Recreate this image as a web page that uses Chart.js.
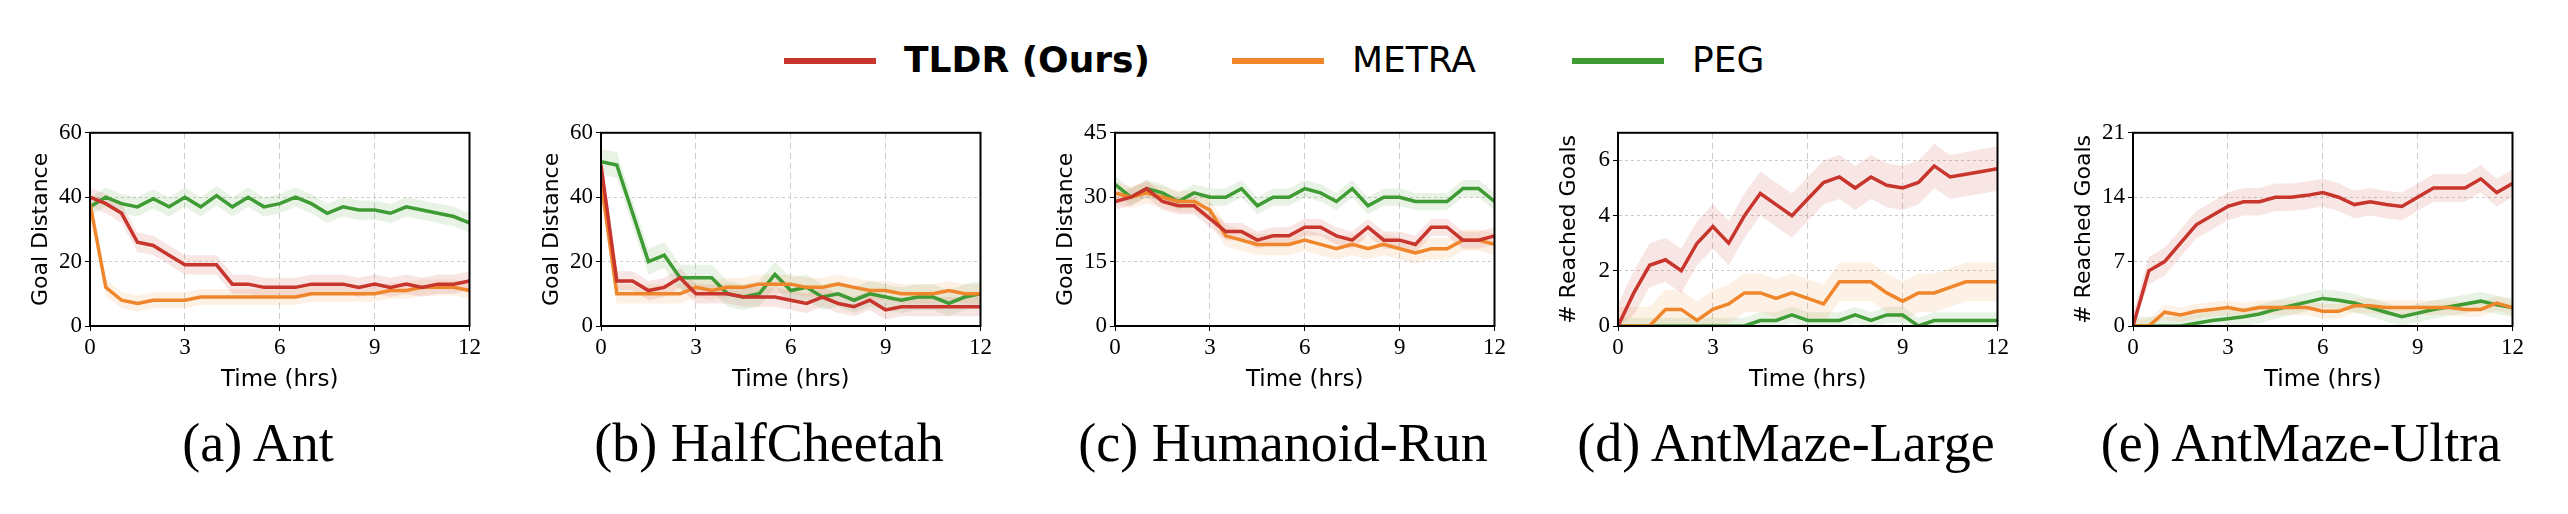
<!DOCTYPE html>
<html><head><meta charset="utf-8">
<script src="https://cdn.jsdelivr.net/npm/chart.js@4.4.1/dist/chart.umd.min.js"></script>
<style>
body{margin:0;background:#fff;width:2568px;height:514px;position:relative;overflow:hidden}
.box{position:absolute;top:116px;height:282px}
.cap{position:absolute;top:412px;font-family:"Liberation Serif",serif;font-size:54px;transform:translateX(-50%);white-space:nowrap}
.leg{position:absolute;top:36px;font-family:"DejaVu Sans",sans-serif;font-size:36px;line-height:48px}
.sw{position:absolute;top:58px;height:6px;width:92px}
</style></head><body>
<div class="sw" style="left:784px;background:#c8352c"></div><div class="leg" style="left:904px;font-weight:bold">TLDR (Ours)</div>
<div class="sw" style="left:1232px;background:#f0862b"></div><div class="leg" style="left:1352px">METRA</div>
<div class="sw" style="left:1572px;background:#3f9b33"></div><div class="leg" style="left:1692px">PEG</div>
<script>
const times = [0,0.5,1,1.5,2,2.5,3,3.5,4,4.5,5,5.5,6,6.5,7,7.5,8,8.5,9,9.5,10,10.5,11,11.5,12];
const titles = ['(a) Ant','(b) HalfCheetah','(c) Humanoid-Run','(d) AntMaze-Large','(e) AntMaze-Ultra'];
const yLabels = ['Goal Distance','Goal Distance','Goal Distance','# Reached Goals','# Reached Goals'];
const yMax = [60,60,45,7,21];
const yStep = [20,20,15,2,7];

const antTLDR  = [40,38,35,26,25,22,19,19,19,13,13,12,12,12,13,13,13,12,13,12,13,12,13,13,14];
const antMETRA = [38,12,8,7,8,8,8,9,9,9,9,9,9,9,10,10,10,10,10,11,11,12,12,12,11];
const antPEG   = [37,40,38,37,39.5,37,40,37,40.5,37,40,37,38,40,38,35,37,36,36,35,37,36,35,34,32];

const hcTLDR  = [50,14,14,11,12,15,10,10,10,9,9,9,8,7,9,7,6,8,5,6,6,6,6,6,6];
const hcMETRA = [45,10,10,10,10,10,12,11,12,12,13,13,13,12,12,13,12,11,11,10,10,10,11,10,10];
const hcPEG   = [51,50,35,20,22,15,15,15,10,9,10,16,11,12,9,10,8,10,9,8,9,9,7,9,10];

const humTLDR  = [29,30,32,29,28,28,25,22,22,20,21,21,23,23,21,20,23,20,20,19,23,23,20,20,21];
const humMETRA = [31,30,31,30,29,29,27,21,20,19,19,19,20,19,18,19,18,19,18,17,18,18,20,20,19];
const humPEG   = [33,30,32,31,29,31,30,30,32,28,30,30,32,31,29,32,28,30,30,29,29,29,32,32,29];

const amlTLDR  = [0,1.2,2.2,2.4,2.0,3.0,3.6,3.0,4.0,4.8,4.4,4.0,4.6,5.2,5.4,5.0,5.4,5.1,5.0,5.2,5.8,5.4,5.5,5.6,5.7];
const amlMETRA = [0,0,0,0.6,0.6,0.2,0.6,0.8,1.2,1.2,1.0,1.2,1.0,0.8,1.6,1.6,1.6,1.2,0.9,1.2,1.2,1.4,1.6,1.6,1.6];
const amlPEG   = [0,0,0,0,0,0,0,0,0,0.2,0.2,0.4,0.2,0.2,0.2,0.4,0.2,0.4,0.4,0,0.2,0.2,0.2,0.2,0.2];

const amuTLDR  = [0,6,7,9,11,12,13,13.5,13.5,14,14,14.2,14.5,14,13.2,13.5,13.2,13,14,15,15,15,16,14.5,15.5];
const amuMETRA = [0,0,1.5,1.2,1.6,1.8,2,1.7,2,2,2,2,1.6,1.6,2.2,2.2,2.0,2,2,2,2,1.8,1.8,2.5,2];
const amuPEG   = [0,0,0,0,0.3,0.6,0.8,1,1.3,1.8,2.2,2.6,3,2.8,2.5,2,1.5,1,1.4,1.8,2.1,2.4,2.7,2.3,2];

// band half-widths per panel [TLDR, METRA, PEG]
const spreads = [[3,2.5,3],[3,3,4],[2,2.5,2],[0.8,0.7,0.3],[1.5,0.8,1]];
const panels = [[antTLDR,antMETRA,antPEG],[hcTLDR,hcMETRA,hcPEG],[humTLDR,humMETRA,humPEG],[amlTLDR,amlMETRA,amlPEG],[amuTLDR,amuMETRA,amuPEG]];
const colors = ['#c8352c','#f0862b','#3f9b33'];
const fills = ['rgba(200,53,44,0.12)','rgba(240,134,43,0.12)','rgba(63,155,51,0.12)'];
const plotLeft = [90,601,1115,1618,2133];

const frame = {id:'frame', afterDraw(c){const a=c.chartArea,x=c.ctx;x.save();x.strokeStyle='#000';x.lineWidth=2;x.strokeRect(a.left,a.top,a.right-a.left,a.bottom-a.top);x.restore();}};

panels.forEach((series,p)=>{
  const div=document.createElement('div');div.className='box';
  div.style.left=(plotLeft[p]-66)+'px';div.style.width=(380+66+14)+'px';
  const cv=document.createElement('canvas');div.appendChild(cv);document.body.appendChild(div);
  const cap=document.createElement('div');cap.className='cap';cap.textContent=titles[p];
  cap.style.left=(plotLeft[p]+168)+'px';document.body.appendChild(cap);
  const ds=[];
  series.forEach((v,i)=>{
    const s=spreads[p][i];
    ds.push({data:times.map((t,k)=>({x:t,y:v[k]+s})),borderWidth:0,pointRadius:0,fill:false,order:5});
    ds.push({data:times.map((t,k)=>({x:t,y:Math.max(0,v[k]-s)})),borderWidth:0,pointRadius:0,fill:'-1',backgroundColor:fills[i],order:5});
  });
  [2,1,0].forEach(i=>ds.push({data:times.map((t,k)=>({x:t,y:series[i][k]})),borderColor:colors[i],borderWidth:3.5,pointRadius:0,fill:false,order:i}));
  new Chart(cv,{type:'line',data:{datasets:ds},plugins:[frame],
    options:{responsive:true,maintainAspectRatio:false,animation:false,
      layout:{padding:{top:12,right:14}},
      plugins:{legend:{display:false},tooltip:{enabled:false}},
      scales:{
        x:{type:'linear',min:0,max:12,afterFit:s=>{s.height=72;},
          ticks:{stepSize:3,color:'#000',font:{family:'Liberation Serif',size:23}},
          grid:{color:'#ccc',drawTicks:true,tickColor:'#000',tickLength:5},border:{dash:[6,4],color:'#000'},
          title:{display:true,text:'Time (hrs)',color:'#000',font:{family:'DejaVu Sans',size:23},padding:{top:2}}},
        y:{min:0,max:yMax[p],afterFit:s=>{s.width=66;},
          afterBuildTicks:s=>{s.ticks=s.ticks.filter(t=>t.value%yStep[p]===0);},
          ticks:{stepSize:yStep[p],color:'#000',font:{family:'Liberation Serif',size:23}},
          grid:{color:'#ccc',tickColor:'#000',tickLength:5},border:{dash:[3,3],color:'#000'},
          title:{display:true,text:yLabels[p],color:'#000',font:{family:'DejaVu Sans',size:22},padding:{bottom:0}}}}}});
});
</script></body></html>
